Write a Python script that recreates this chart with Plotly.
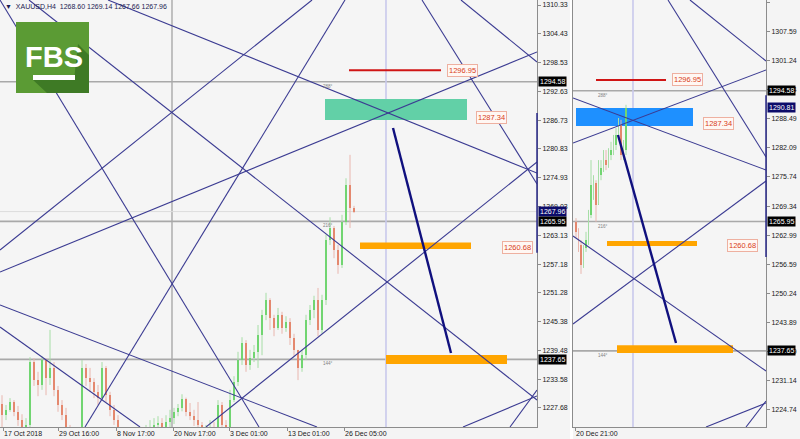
import plotly.graph_objects as go

W, H = 800, 439
FONT = "Liberation Sans, Arial, sans-serif"

# ---------------- data: left panel (XAUUSD H4, bar index) ----------------
open0_l = 1228.5
closes_l = [1226.2, 1227.3, 1228.9, 1226.9, 1225.2, 1223.6, 1224.2, 1237.1, 1233.4, 1232.4,
            1237.5, 1233.8, 1235.9, 1231.4, 1228.3, 1226.2, 1223.6, 1221.1, 1220.1, 1221.5,
            1235.9, 1233.8, 1233.0, 1231.0, 1229.7, 1235.9, 1230.3, 1227.3, 1225.2, 1223.2,
            1220.7, 1219.1, 1220.1, 1218.7, 1219.5, 1221.1, 1222.1, 1223.2, 1224.2, 1224.6,
            1223.6, 1224.8, 1225.6, 1226.9, 1227.7, 1229.6, 1226.8, 1226.0, 1225.2, 1224.2,
            1222.1, 1222.8, 1223.6, 1223.2, 1228.3, 1224.2, 1223.6, 1229.3, 1233.0, 1237.5,
            1241.0, 1236.5, 1237.9, 1239.2, 1242.6, 1246.8, 1249.8, 1246.1, 1244.1, 1246.8,
            1244.1, 1245.3, 1242.0, 1239.6, 1235.9, 1238.5, 1245.7, 1247.8, 1249.8, 1243.7,
            1249.8, 1262.1, 1264.6, 1260.1, 1257.0, 1265.8, 1273.4, 1268.6, 1267.96]
highs_l = [1230.3, 1228.3, 1229.7, 1229.3, 1228.1, 1226.4, 1225.6, 1238.1, 1237.9, 1235.1,
           1238.3, 1237.9, 1243.7, 1237.1, 1232.2, 1229.3, 1227.7, 1224.2, 1222.1, 1223.2,
           1237.5, 1236.7, 1235.9, 1233.8, 1232.4, 1237.1, 1236.3, 1231.0, 1228.3, 1226.2,
           1223.6, 1221.5, 1221.9, 1221.1, 1221.5, 1223.2, 1224.2, 1225.2, 1225.6, 1226.0,
           1225.6, 1226.2, 1227.3, 1227.7, 1228.5, 1230.5, 1229.8, 1228.7, 1227.3, 1228.9,
           1224.8, 1224.2, 1225.2, 1224.8, 1229.3, 1228.9, 1225.2, 1231.4, 1234.2, 1239.2,
           1242.2, 1241.6, 1239.6, 1240.6, 1244.7, 1247.8, 1251.3, 1250.2, 1246.8, 1248.2,
           1247.4, 1246.5, 1246.1, 1242.9, 1239.6, 1239.6, 1246.8, 1248.8, 1250.7, 1252.3,
           1250.9, 1263.2, 1266.8, 1265.0, 1261.1, 1267.3, 1274.8, 1279.6, 1269.14]
lows_l = [1222.8, 1225.2, 1226.9, 1226.0, 1224.0, 1222.6, 1222.3, 1223.6, 1232.2, 1230.1,
          1231.4, 1230.3, 1232.4, 1230.1, 1226.9, 1225.2, 1222.8, 1219.5, 1218.0, 1219.1,
          1221.1, 1232.2, 1231.0, 1229.7, 1228.3, 1229.3, 1228.9, 1226.0, 1224.2, 1221.9,
          1219.1, 1217.4, 1218.0, 1217.0, 1217.8, 1219.1, 1220.1, 1221.1, 1222.1, 1222.8,
          1222.3, 1223.2, 1223.6, 1224.4, 1226.0, 1227.0, 1226.0, 1225.2, 1224.0, 1223.2,
          1221.1, 1220.7, 1221.9, 1221.5, 1222.8, 1223.2, 1222.1, 1222.8, 1228.9, 1232.2,
          1236.5, 1235.1, 1235.5, 1237.1, 1235.9, 1238.5, 1245.7, 1243.7, 1242.4, 1243.7,
          1242.9, 1243.3, 1240.6, 1238.3, 1233.4, 1235.1, 1237.5, 1244.7, 1246.1, 1242.4,
          1242.9, 1248.8, 1261.1, 1258.4, 1255.2, 1256.4, 1265.2, 1264.6, 1267.66]

# ---------------- data: right panel ----------------
open0_r = 1265.9
closes_r = [1263.7, 1260.8, 1256.4, 1260.2, 1261.9, 1267.4, 1273.9, 1274.4, 1269.6, 1276.1,
            1277.7, 1279.4, 1278.3, 1280.5, 1281.6, 1282.7, 1284.9, 1287.1, 1280.5, 1281.6, 1290.81]
highs_r = [1266.7, 1264.5, 1261.9, 1260.8, 1263.7, 1268.5, 1279.4, 1276.1, 1275.0, 1279.4,
           1279.4, 1281.6, 1281.6, 1282.0, 1283.4, 1284.9, 1286.4, 1288.6, 1288.2, 1283.8, 1291.5]
lows_r = [1262.4, 1259.3, 1254.5, 1255.8, 1259.3, 1260.8, 1266.7, 1270.7, 1265.9, 1269.6,
          1275.0, 1276.8, 1277.2, 1277.7, 1279.4, 1280.5, 1281.6, 1283.8, 1279.4, 1279.4, 1280.5]

# axis ticks
ytick_l = [1310.33, 1304.43, 1298.53, 1292.63, 1286.73, 1280.83, 1274.93, 1269.03,
           1263.13, 1257.18, 1251.28, 1245.38, 1239.48, 1233.58, 1227.68]
ytick_r = [1313.99, 1307.59, 1301.24, 1294.84, 1288.49, 1282.09, 1275.74, 1269.34,
           1262.99, 1256.59, 1250.24, 1243.89, 1237.49, 1231.14, 1224.74]
xtick_l_pos = [0.25, 14, 28.5, 42.75, 56.75, 71.25, 85.5]
xtick_l_text = ["17 Oct 2018", "29 Oct 16:00", "8 Nov 17:00", "20 Nov 17:00",
                "3 Dec 01:00", "13 Dec 01:00", "26 Dec 05:00"]
xtick_r_pos = [-0.4]
xtick_r_text = ["20 Dec 21:00"]

# horizontal levels, degree tags
hlevels = [1294.58, 1265.95, 1237.65]
hlevel_tags = ["288°", "216°", "144°"]
bid_l = 1267.96
bid_r = 1290.81

# Gann lines (bar0, price0, bar1, price1)
gann_l = [(20.75, 1223.78, 85.75, 1311.36), (-0.5, 1311.36, 64.25, 1223.78),
          (-0.5, 1248.80, 78.75, 1223.78), (-0.5, 1244.29, 34.5, 1223.78),
          (6.75, 1311.36, 133.75, 1229.32), (-0.5, 1255.57, 133.75, 1300.69),
          (51.0, 1223.78, 133.75, 1278.13), (26.5, 1311.36, 133.75, 1275.88),
          (105.0, 1311.36, 133.75, 1273.62), (114.75, 1311.36, 133.75, 1298.64),
          (115.25, 1223.78, 133.75, 1230.14), (127.0, 1223.78, 133.75, 1231.37),
          (-0.5, 1260.08, 77.5, 1311.36)]
gann_r = [(-1.2, 1292.99, 76, 1277.23), (-1.2, 1283.14, 76, 1299.11),
          (36.8, 1314.43, 76, 1280.08), (-1.2, 1262.79, 76, 1233.26),
          (-1.2, 1243.54, 76, 1274.83), (45.6, 1314.43, 76, 1301.08),
          (52.0, 1221.0, 76, 1226.25), (68.0, 1221.0, 76, 1226.69)]
arrow_l = (97.75, 1285.11, 112.25, 1238.96)
arrow_r = (16.8, 1284.89, 40.0, 1239.38)

# zones: (bar0, bar1, price_lo, price_hi)
zone_top_l = (80.75, 116.25, 1286.75, 1291.05)
zone_mid_l = (89.5, 117.25, 1260.3, 1261.6)
zone_low_l = (96.0, 126.25, 1236.7, 1238.55)
zone_top_r = (0.0, 46.8, 1286.86, 1290.8)
zone_mid_r = (12.4, 48.4, 1260.6, 1261.7)
zone_low_r = (16.4, 62.8, 1237.2, 1238.9)
target_l = (86.75, 109.75, 1296.95)
target_r = (8.0, 36.0, 1296.95)
vline_l = [42.5]
vmark_l = 96.0
vmark_r = 22.8
axis_range_l = (1259.5, 1288.2)
axis_range_r = (1258.2, 1293.6)
# price tags (bar, price)
tags_l = [(111.25, 1296.95), (118.5, 1287.34), (125.0, 1260.68)]
tags_r = [(38.4, 1296.95), (50.8, 1287.34), (60.4, 1260.68)]
deg_bar_l, deg_bar_r = 81.5, 10.8

XR_L = [-0.5, 133.75]
YR_L = [1223.78, 1311.36]
XR_R = [-1.2, 76]
YR_R = [1221.0, 1314.43]

NAVY = "#3b3b92"
GRAY = "#a9a9a9"

fig = go.Figure()


def add_candles(xa, ya, o0, closes, highs, lows, body_w, min_h):
    opens = [o0] + closes[:-1]
    bars = list(range(len(closes)))
    up = [c >= o for o, c in zip(opens, closes)]
    for is_up, wcol in [(True, "#a6dea6"), (False, "#e9b6ae")]:
        xs, ys = [], []
        for b, hi, lo, u in zip(bars, highs, lows, up):
            if u == is_up:
                xs += [b, b, None]
                ys += [lo, hi, None]
        fig.add_trace(go.Scatter(x=xs, y=ys, mode="lines", line=dict(color=wcol, width=1),
                                 xaxis=xa, yaxis=ya, hoverinfo="skip", showlegend=False))
    blo = [min(o, c) for o, c in zip(opens, closes)]
    bh = [max(abs(c - o), min_h) for o, c in zip(opens, closes)]
    cols = ["#3ccc3c" if u else "#df5a2e" for u in up]
    fig.add_trace(go.Bar(x=bars, y=bh, base=blo, width=body_w, marker=dict(color=cols, line=dict(width=0)),
                         xaxis=xa, yaxis=ya, hoverinfo="skip", showlegend=False))


def add_lines(xa, ya, segs, color, width):
    xs, ys = [], []
    for x0, y0, x1, y1 in segs:
        xs += [x0, x1, None]
        ys += [y0, y1, None]
    fig.add_trace(go.Scatter(x=xs, y=ys, mode="lines", line=dict(color=color, width=width),
                             xaxis=xa, yaxis=ya, hoverinfo="skip", showlegend=False))


add_candles("x", "y", open0_l, closes_l, highs_l, lows_l, 0.55, 0.25)
add_candles("x2", "y2", open0_r, closes_r, highs_r, lows_r, 0.75, 0.25)
add_lines("x", "y", gann_l, NAVY, 1.1)
add_lines("x2", "y2", gann_r, NAVY, 1.1)
add_lines("x", "y", [arrow_l], "#10107e", 2.4)
add_lines("x2", "y2", [arrow_r], "#10107e", 2.4)

shapes = []
annots = []


def panel_decor(xr, yr, zt, zm, zl, zt_color, target, vmark, axis_rng, tags, deg_bar, bid, bid_bg, axis_x):
    xd, yd = xr + " domain", yr + " domain"
    for lv in hlevels:
        shapes.append(dict(type="line", xref=xd, yref=yr, x0=0, x1=1, y0=lv, y1=lv,
                           line=dict(color=GRAY, width=1.6), layer="below"))
    shapes.append(dict(type="line", xref=xr, yref=yd, x0=vmark, x1=vmark, y0=0, y1=1,
                       line=dict(color="#c9c9ec", width=1.6), layer="below"))
    for (b0, b1, p0, p1), col in [(zt, zt_color), (zm, "#ffa500"), (zl, "#ffa500")]:
        shapes.append(dict(type="rect", xref=xr, yref=yr, x0=b0, x1=b1, y0=p0, y1=p1,
                           fillcolor=col, line=dict(width=0), layer="below"))
    shapes.append(dict(type="line", xref=xr, yref=yr, x0=target[0], x1=target[1],
                       y0=target[2], y1=target[2], line=dict(color="#d01515", width=2), layer="below"))
    shapes.append(dict(type="line", xref=xd, yref=yr, x0=1, x1=1, y0=axis_rng[0], y1=axis_rng[1],
                       line=dict(color="#2a2a8a", width=1.5)))
    for b, p in tags:
        annots.append(dict(x=b, y=p, xref=xr, yref=yr, text=f"{p:.2f}", showarrow=False,
                           xanchor="left", yanchor="middle", font=dict(family=FONT, size=7.5, color="#d8401c"),
                           bgcolor="#fff7f3", bordercolor="#eeb0a0", borderwidth=1, borderpad=1))
    for lv, tg in zip(hlevels, hlevel_tags):
        annots.append(dict(x=deg_bar, y=lv, xref=xr, yref=yr, text=tg, showarrow=False,
                           xanchor="center", yanchor="top", font=dict(family=FONT, size=4.5, color="#808080")))
    for lv, bg in [(hlevels[0], "#000000"), (bid, bid_bg), (hlevels[1], "#000000"), (hlevels[2], "#000000")]:
        annots.append(dict(x=axis_x, y=lv, xref="paper", yref=yr, text=f"{lv:.2f}", showarrow=False,
                           xanchor="left", yanchor="middle", font=dict(family=FONT, size=7, color="#ffffff"),
                           bgcolor=bg, borderpad=1))


panel_decor("x", "y", zone_top_l, zone_mid_l, zone_low_l, "#62d0a7", target_l, vmark_l,
            axis_range_l, tags_l, deg_bar_l, bid_l, "#0c0c6a", 538 / W)
panel_decor("x2", "y2", zone_top_r, zone_mid_r, zone_low_r, "#1e90ff", target_r, vmark_r,
            axis_range_r, tags_r, deg_bar_r, bid_r, "#0c0c6a", 767 / W)

# left panel extra vertical level and bid line
for vb in vline_l:
    shapes.append(dict(type="line", xref="x", yref="y domain", x0=vb, x1=vb, y0=0, y1=1,
                       line=dict(color=GRAY, width=1.4), layer="below"))
shapes.append(dict(type="line", xref="x domain", yref="y", x0=0, x1=1, y0=bid_l, y1=bid_l,
                   line=dict(color="#dcdcdc", width=1), layer="below"))

# separator between panels
shapes.append(dict(type="rect", xref="paper", yref="paper", x0=570 / W, x1=573 / W, y0=0, y1=1,
                   fillcolor="#ffffff", line=dict(width=0), layer="below"))


# FBS logo (paper coordinates)
def P(x, y):
    return x / W, 1 - y / H


lx0, ly0 = P(16, 93)
lx1, ly1 = P(89, 22)
shapes.append(dict(type="rect", xref="paper", yref="paper", x0=lx0, y0=ly0, x1=lx1, y1=ly1,
                   fillcolor="#5b9b34", line=dict(width=0)))
pts = [P(78, 44), P(89, 55), P(89, 93), P(47, 93), P(33, 80), P(74, 80)]
path = "M " + " L ".join(f"{a:.5f},{b:.5f}" for a, b in pts) + " Z"
shapes.append(dict(type="path", xref="paper", yref="paper", path=path,
                   fillcolor="#3e7a25", line=dict(width=0)))
ux0, uy0 = P(33, 80)
ux1, uy1 = P(75, 75)
shapes.append(dict(type="rect", xref="paper", yref="paper", x0=ux0, y0=uy0, x1=ux1, y1=uy1,
                   fillcolor="#ffffff", line=dict(width=0)))
fx, fy = P(54, 57)
annots.append(dict(x=fx, y=fy, xref="paper", yref="paper", text="<b>FBS</b>", showarrow=False,
                   xanchor="center", yanchor="middle",
                   font=dict(family="Liberation Sans Narrow, Liberation Sans, Arial", size=29, color="#ffffff")))

# header
hx, hy = P(3, 7)
annots.append(dict(x=hx, y=hy, xref="paper", yref="paper",
                   text="▼  XAUUSD,H4  1268.60 1269.14 1267.66 1267.96", showarrow=False,
                   xanchor="left", yanchor="middle", font=dict(family=FONT, size=7, color="#1c1c50")))

ydom = [12 / H, 1]
axis_common = dict(showgrid=False, zeroline=False, showline=True, linecolor="#8c8c8c", linewidth=1,
                   ticks="outside", ticklen=3, tickcolor="#8c8c8c",
                   tickfont=dict(family=FONT, size=7, color="#202020"), fixedrange=True)

fig.update_layout(
    width=W, height=H, margin=dict(l=0, r=0, t=0, b=0),
    paper_bgcolor="#f4f4f4", plot_bgcolor="#f5f5f5", showlegend=False, bargap=0,
    xaxis=dict(domain=[0, 537 / W], range=XR_L, tickvals=xtick_l_pos, ticktext=xtick_l_text,
               ticklabelposition="outside right", anchor="y", **axis_common),
    yaxis=dict(domain=ydom, range=YR_L, side="right", anchor="x", tickvals=ytick_l,
               ticktext=[f"{v:.2f}" for v in ytick_l], **axis_common),
    xaxis2=dict(domain=[573 / W, 766 / W], range=XR_R, tickvals=xtick_r_pos, ticktext=xtick_r_text,
                ticklabelposition="outside right", anchor="y2", **axis_common),
    yaxis2=dict(domain=ydom, range=YR_R, side="right", anchor="x2", mirror=True, tickvals=ytick_r,
                ticktext=[f"{v:.2f}" for v in ytick_r], **axis_common),
    shapes=shapes, annotations=annots,
)

fig.write_html("out.html", config={"displayModeBar": False, "staticPlot": True},
               post_script="document.body.style.margin='0';document.body.style.overflow='hidden';")
